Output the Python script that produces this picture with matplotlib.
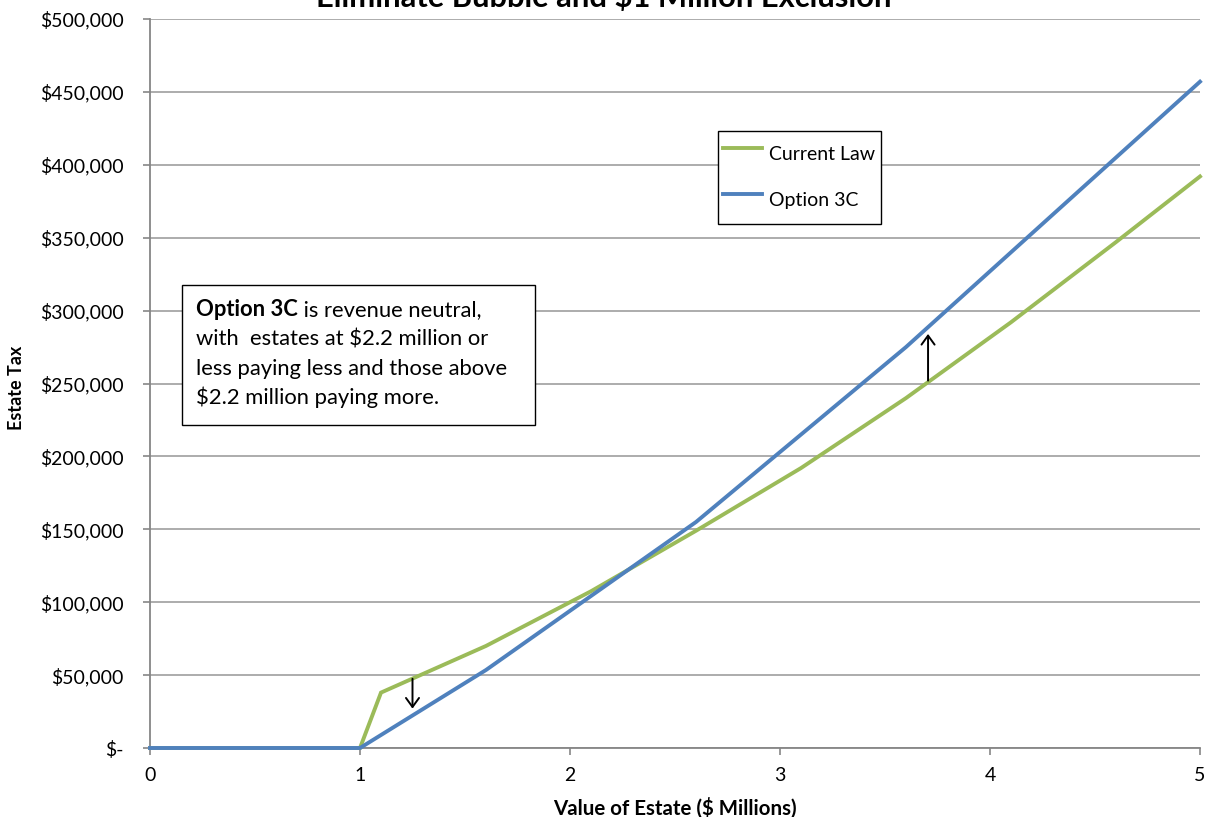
import matplotlib
matplotlib.use("Agg")
import matplotlib.pyplot as plt
from matplotlib.patches import Rectangle
from matplotlib.ticker import FuncFormatter, FixedLocator

# Estate value ($ millions) and estate tax ($) for each schedule
value_current_law = [0.0, 1.0, 1.1, 1.6, 2.1, 2.6, 3.1, 3.6, 4.1, 4.6, 5.0]
tax_current_law = [0, 0, 38000, 70000, 107500, 149000, 192000, 240000, 292000, 347000, 392000]

value_option_3c = [0.0, 1.0, 1.6, 2.6, 3.6, 5.0]
tax_option_3c = [0, 0, 53500, 155000, 275000, 457000]

series_labels = ["Current Law", "Option 3C"]
x_ticks = [0, 1, 2, 3, 4, 5]
y_ticks = [0, 50000, 100000, 150000, 200000, 250000, 300000, 350000, 400000, 450000, 500000]

# Arrows showing the change in tax: (x, start tax, end tax)
arrow_decrease = (1.25, 47500, 27000)
arrow_increase = (3.705, 252000, 284000)

title = "Eliminate Bubble and $1 Million Exclusion"
x_label = "Value of Estate ($ Millions)"
y_label = "Estate Tax"
note_bold = "Option 3C"
note_lines = [" is revenue neutral,",
              "with  estates at $2.2 million or",
              "less paying less and those above",
              "$2.2 million paying more."]

GREEN = "#9BBB59"
BLUE = "#4F81BD"
GRID = "#a6a6a6"
AXIS = "#868686"
FONT = "Lato"

W, H = 1205, 817
plt.rcParams["font.family"] = [FONT, "DejaVu Sans"]

fig = plt.figure(figsize=(W / 100, H / 100), dpi=100)


def fx(px):
    return px / W


def fy(py):
    return 1 - py / H


ax = fig.add_axes([fx(150), fy(748), fx(1200) - fx(150), fy(19) - fy(748)])
ax.set_xlim(0, 5)
ax.set_ylim(0, 500000)

ax.plot(value_current_law, tax_current_law, color=GREEN, lw=2.8,
        solid_joinstyle="miter", clip_on=False, zorder=3, label=series_labels[0])
ax.plot(value_option_3c, tax_option_3c, color=BLUE, lw=2.8,
        solid_joinstyle="miter", clip_on=False, zorder=4, label=series_labels[1])

# Axes styling
for side in ("top", "right"):
    ax.spines[side].set_visible(False)
ax.spines["left"].set_color(AXIS)
ax.spines["bottom"].set_color(AXIS)
ax.spines["left"].set_linewidth(1.3)
ax.spines["bottom"].set_linewidth(1.3)
ax.yaxis.grid(True, color=GRID, lw=1.3)
ax.set_axisbelow(True)

ax.xaxis.set_major_locator(FixedLocator(x_ticks))
ax.yaxis.set_major_locator(FixedLocator(y_ticks))


def money(v, pos):
    return "$-" if v == 0 else f"${v:,.0f}"


ax.yaxis.set_major_formatter(FuncFormatter(money))
ax.xaxis.set_major_formatter(FuncFormatter(lambda v, p: f"{v:g}"))
ax.tick_params(axis="y", direction="out", length=5, width=1.2, color=AXIS,
               pad=14, labelsize=14, labelcolor="black")
ax.tick_params(axis="x", direction="out", length=5, width=1.2, color=AXIS,
               pad=9, labelsize=14, labelcolor="black")

# Titles
fig.text(fx(604), fy(7), title, ha="center", va="baseline",
         fontsize=22.2, fontweight="bold")
fig.text(fx(675), fy(808), x_label, ha="center", va="center",
         fontsize=14.8, fontweight="bold")
fig.text(fx(17), fy(388), y_label, ha="center", va="center",
         rotation=90, fontsize=13, fontweight="bold")

# Legend
leg = ax.legend(loc="upper left", bbox_to_anchor=(fx(718), fy(131)),
                bbox_transform=fig.transFigure, fontsize=14, frameon=True,
                fancybox=False, edgecolor="black", framealpha=1,
                borderpad=0.27, handlelength=2.0, handletextpad=0.36,
                handleheight=2.48, labelspacing=0.52, borderaxespad=0)
leg.get_frame().set_linewidth(1.0)

# Change arrows
for xv, y0, y1 in (arrow_decrease, arrow_increase):
    ax.annotate("", xy=(xv, y1), xytext=(xv, y0),
                arrowprops=dict(arrowstyle="->,head_length=0.65,head_width=0.47",
                                mutation_scale=10, color="black", lw=1.4,
                                shrinkA=0, shrinkB=0),
                zorder=6)

# Note box
fig.patches.append(Rectangle((fx(182), fy(425)), fx(535) - fx(182), fy(285) - fy(425),
                             transform=fig.transFigure, facecolor="white",
                             edgecolor="black", lw=1.0, zorder=5))
note_size = 15.8
line_step = 29.5
first = fig.text(fx(196), fy(316), note_bold, ha="left", va="baseline",
                 fontsize=note_size, fontweight="bold", zorder=6)
renderer = fig.canvas.get_renderer()
bold_w = first.get_window_extent(renderer).width
fig.text(fx(196) + bold_w / W, fy(316), note_lines[0], ha="left", va="baseline",
         fontsize=note_size, zorder=6)
for i, line in enumerate(note_lines[1:], start=1):
    fig.text(fx(196), fy(316 + i * line_step), line, ha="left", va="baseline",
             fontsize=note_size, zorder=6)

fig.savefig("out.png", dpi=100)
